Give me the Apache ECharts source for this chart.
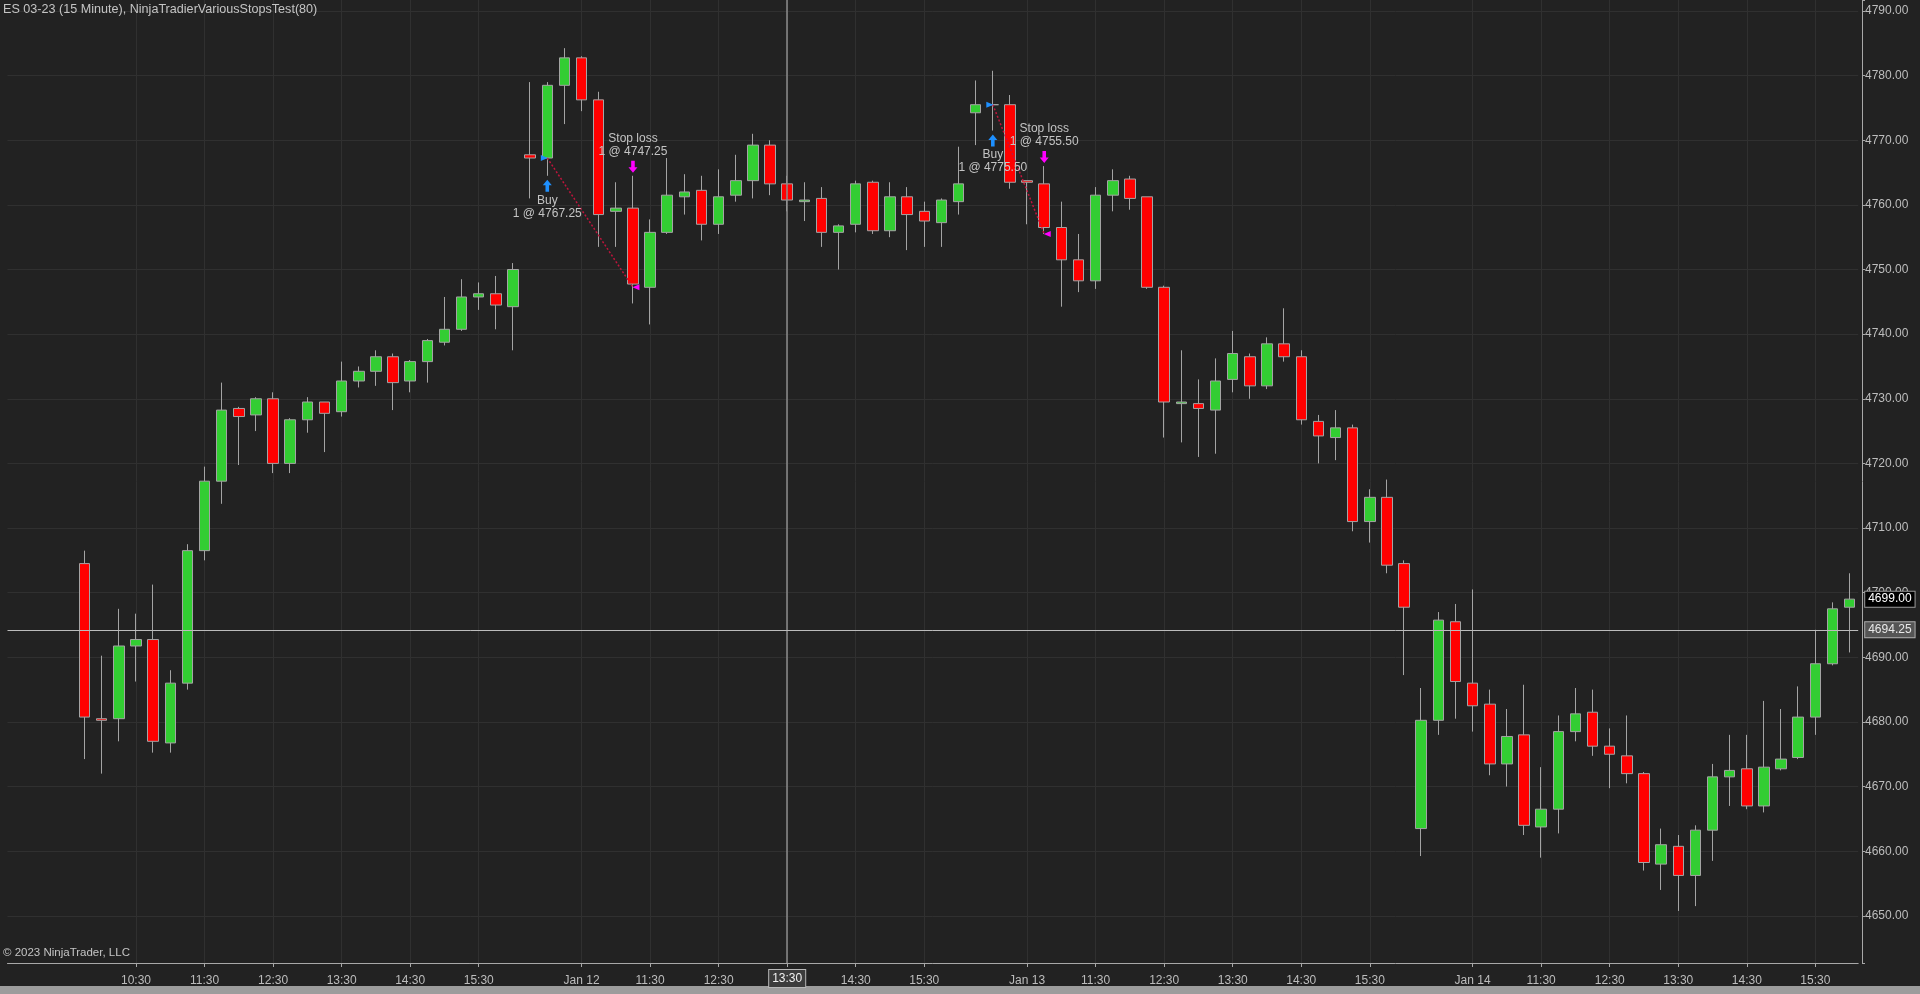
<!DOCTYPE html>
<html><head><meta charset="utf-8">
<script src="https://cdn.jsdelivr.net/npm/echarts@6/dist/echarts.min.js"></script>
<style>html,body{margin:0;padding:0;background:#222222;overflow:hidden}#c{width:1920px;height:994px}</style>
</head><body><div id="c"></div>
<script>
// ---- categories ----
const dayLabels = ['Jan 11', 'Jan 12', 'Jan 13', 'Jan 14'];
const barTimes = ['09:45','10:00','10:15','10:30','10:45','11:00','11:15','11:30','11:45','12:00','12:15','12:30','12:45',
                  '13:00','13:15','13:30','13:45','14:00','14:15','14:30','14:45','15:00','15:15','15:30','15:45','16:00'];
const padBars = 4;

// ---- OHLC values (15 minute bars) ----
const openP = [
 4704.5,4680.5,4680.5,4691.75,4692.75,4676.75,4686,4706.5,4717.25,4728.5,4727.5,4730,4720,4726.75,4729.5,4728,4732.75,4734.25,4736.5,4732.75,4735.75,4738.75,4740.75,4745.75,4746.25,4744.25,
 4767.75,4767.25,4778.5,4782.75,4776.25,4759,4759.5,4747.25,4755.75,4761.25,4762.25,4757,4761.5,4763.75,4769.25,4763.25,4760.5,4761,4755.75,4757,4763.5,4756,4761.25,4759,4757.25,4760.5,
 4774.25,4775.5,4775.5,4763.75,4763.25,4756.5,4751.5,4748.25,4761.5,4764,4761.25,4747.25,4729.25,4729.25,4728.25,4733,4736.5,4732,4738.5,4736.5,4726.5,4724,4725.5,4711,4714.75,4704.5,
 4663.5,4680.25,4695.5,4686,4682.75,4673.5,4678,4663.75,4666.5,4678.5,4681.5,4676.25,4674.75,4672,4658,4660.75,4656.25,4663.25,4671.5,4672.75,4667,4672.75,4674.5,4680.75,4689,4697.75];
const closeP = [
 4680.75,4680.25,4691.75,4692.75,4677,4686,4706.5,4717.25,4728.25,4727.25,4730,4720,4726.75,4729.5,4727.75,4732.75,4734.25,4736.5,4732.5,4735.75,4739,4740.75,4745.75,4746.25,4744.5,4750,
 4767.25,4778.5,4782.75,4776.25,4758.5,4759.5,4747.75,4755.75,4761.5,4762,4757,4761.25,4763.75,4769.25,4763.25,4760.75,4760.75,4755.75,4756.75,4763.25,4756,4761.25,4758.5,4757.5,4760.75,4763.25,
 4775.5,4775.5,4763.5,4763.5,4756.5,4751.5,4748.25,4761.5,4763.75,4761,4747.25,4729.5,4729.5,4728.5,4732.75,4737,4732,4738.5,4736.5,4726.75,4724.25,4725.5,4711,4714.75,4704.25,4697.75,
 4680.25,4695.75,4686.25,4682.5,4673.5,4677.75,4664,4666.5,4678.5,4681.25,4676.25,4675,4672,4658.25,4661,4656.25,4663.25,4671.5,4672.5,4667,4673,4674.25,4680.75,4689,4697.5,4699];
const lowP = [
 4674.25,4672,4677,4686.25,4675.25,4675.25,4685,4705,4713.75,4719.75,4725,4718.5,4718.5,4724.75,4721.75,4727.25,4731.75,4732,4728.25,4731,4732.5,4738.25,4740.5,4743.75,4740.75,4737.5,
 4761,4764.5,4772.5,4774.5,4753.5,4753.5,4744.75,4741.5,4755.5,4758.5,4754.5,4755.5,4760.5,4761,4761.5,4759,4757.5,4753.5,4750,4755.75,4755.5,4755,4753,4753.5,4753.5,4758.5,
 4769.25,4771.5,4762.5,4757,4755.5,4744.25,4746.5,4747,4759,4759.25,4747,4724,4723.25,4721,4721.5,4731,4730,4731.5,4735.75,4726,4720,4720.5,4709.5,4707.75,4703,4687.25,
 4659.25,4678,4680.5,4678.5,4671.75,4670,4662.5,4659,4662.75,4677,4674.75,4669.75,4670.5,4657,4654,4650.75,4651.5,4658.5,4667,4666.5,4666,4672.5,4674.25,4678,4688.75,4690.75];
const highP = [
 4706.5,4690.25,4697.5,4696.75,4701.25,4688,4707.5,4719.5,4732.5,4728.75,4730.25,4731,4727,4730.25,4729.5,4735.75,4735,4737.5,4737,4736,4739.25,4745.75,4748.5,4748,4749,4751,
 4779,4779,4784.25,4783,4777.5,4763.5,4764.5,4757.75,4767.25,4764.75,4764.5,4765.5,4767.75,4771,4770,4764.5,4763.5,4762.75,4757,4763.75,4763.75,4763.5,4762.75,4760.5,4761,4769,
 4779.25,4780.75,4777,4763.75,4766,4760.5,4755.5,4762.75,4765.5,4764.5,4761.25,4747.5,4737.5,4733,4736.25,4740.5,4737,4739.5,4744,4737.5,4727.5,4728.25,4726,4716,4717.5,4705,
 4685.25,4697,4698.25,4700.5,4685,4682,4685.75,4673,4681,4685.25,4685,4679,4681,4672.25,4663.5,4662.5,4664,4673.5,4678,4678,4683.25,4682,4685.5,4694.25,4698.5,4703];

// ---- trades ----
const entryBar = [27, 53];
const entryPrice = [4767.25, 4775.50];
const exitBar = [32, 56];
const exitPrice = [4747.25, 4755.50];

// ---- cursor / last price ----
const crossBar = 41;
const crossPrice = 4694.25;
const lastPrice = 4699.00;

// ---- build ----
const cats = [];
for (let i = 0; i < padBars; i++) cats.push('pad' + i);
dayLabels.forEach(d => barTimes.forEach(t => cats.push(d + ' ' + t)));
const barCat = i => cats[i + padBars];

const candles = [];
for (let i = 0; i < padBars; i++) candles.push('-');
for (let i = 0; i < openP.length; i++) candles.push([openP[i], closeP[i], lowP[i], highP[i]]);

function isTick(v) {
  if (v.indexOf('pad') === 0) return false;
  const t = v.slice(-5);
  const h = parseInt(t.slice(0, 2), 10);
  return t.slice(3) === '30' && h >= 10 && h <= 15;
}
function tickText(v) {
  const d = v.slice(0, v.length - 6), t = v.slice(-5);
  if (t === '10:30' && d !== dayLabels[0]) return d;
  return t;
}
const tickInterval = (idx, v) => isTick(v);

const FONT = '"Liberation Sans", Arial, sans-serif';
const TXT = '#c4c4c4';
const upArrow = 'path://M5,0 L10,6 L7,6 L7,13 L3,13 L3,6 L0,6 Z';
const downArrow = 'path://M3,0 L7,0 L7,7 L10,7 L5,13 L0,7 L3,7 Z';

const markPoints = [];
const tradeLines = [];
for (let k = 0; k < entryBar.length; k++) {
  const eb = entryBar[k], xb = exitBar[k];
  markPoints.push({
    coord: [barCat(eb), lowP[eb]], symbol: upArrow, symbolSize: [9, 12], symbolOffset: [0, 10],
    itemStyle: { color: '#1e90ff' },
    label: { show: true, position: 'bottom', distance: 2, formatter: 'Buy\n1 @ ' + entryPrice[k].toFixed(2),
             color: TXT, fontSize: 12, lineHeight: 13, fontFamily: FONT, align: 'center' }
  });
  markPoints.push({
    coord: [barCat(xb), highP[xb]], symbol: downArrow, symbolSize: [9, 12], symbolOffset: [0, -9],
    itemStyle: { color: '#ff00ff' },
    label: { show: true, position: 'top', distance: 3, formatter: 'Stop loss\n1 @ ' + exitPrice[k].toFixed(2),
             color: TXT, fontSize: 12, lineHeight: 13, fontFamily: FONT, align: 'center' }
  });
  markPoints.push({
    coord: [barCat(eb), entryPrice[k]], symbol: 'triangle', symbolSize: [6, 7], symbolRotate: -90, symbolOffset: [-3, 0],
    itemStyle: { color: '#1e90ff' }, label: { show: false }
  });
  markPoints.push({
    coord: [barCat(xb), exitPrice[k]], symbol: 'triangle', symbolSize: [6, 7], symbolRotate: 90, symbolOffset: [3, 0],
    itemStyle: { color: '#ff00ff' }, label: { show: false }
  });
  tradeLines.push([
    { coord: [barCat(eb), entryPrice[k]], lineStyle: { color: '#c0143c', width: 1.5, type: [2, 2] }, label: { show: false } },
    { coord: [barCat(xb), exitPrice[k]] }
  ]);
}

const chart = echarts.init(document.getElementById('c'), null, { renderer: 'canvas' });
chart.setOption({
  backgroundColor: '#222222',
  animation: false,
  title: [
    { text: 'ES 03-23 (15 Minute), NinjaTradierVariousStopsTest(80)', left: 3, top: 3, padding: 0,
      textStyle: { color: TXT, fontSize: 12.6, fontWeight: 'normal', fontFamily: FONT } },
    { text: '© 2023 NinjaTrader, LLC', left: 3, top: 947, padding: 0,
      textStyle: { color: TXT, fontSize: 11.5, fontWeight: 'normal', fontFamily: FONT } }
  ],
  grid: { left: 7.5, right: 61.8, top: 0, bottom: 31, containLabel: false },
  xAxis: {
    type: 'category', data: cats, boundaryGap: true,
    axisLine: { show: true, lineStyle: { color: '#a8a8a8', width: 1 } },
    axisTick: { show: true, alignWithLabel: true, interval: tickInterval, length: 4, lineStyle: { color: '#a8a8a8' } },
    axisLabel: { show: true, interval: tickInterval, formatter: v => tickText(v), color: '#bdbdbd', fontSize: 12, margin: 12, fontFamily: FONT },
    splitLine: { show: true, alignWithLabel: true, interval: tickInterval, lineStyle: { color: '#303030', width: 1 } }
  },
  yAxis: {
    type: 'value', position: 'right', min: 4642.7, max: 4791.7, splitNumber: 15, offset: 3.8,
    axisLine: { show: true, lineStyle: { color: '#a8a8a8', width: 1 } },
    axisTick: { show: true, length: 3, lineStyle: { color: '#a8a8a8' } },
    axisLabel: { show: true, formatter: v => (Math.abs(v % 10) < 1e-6 ? v.toFixed(2) : ''), color: '#bdbdbd', fontSize: 12, margin: 3, fontFamily: FONT },
    splitLine: { show: true, showMinLine: false, showMaxLine: false, lineStyle: { color: '#303030', width: 1 } }
  },
  series: [{
    type: 'candlestick', data: candles, barWidth: 11, clip: false,
    itemStyle: { color: '#32cd32', color0: '#ff0000', borderColor: '#a4a4a4', borderColor0: '#a4a4a4', borderColorDoji: '#a4a4a4', borderWidth: 1 },
    emphasis: { disabled: true },
    markLine: {
      silent: true, symbol: ['none', 'none'], animation: false,
      data: [
        { xAxis: barCat(crossBar), lineStyle: { color: '#8c8c8c', width: 1.5, type: 'solid' },
          label: { show: true, position: 'start', distance: 7, formatter: () => barTimes[crossBar % 26],
                   color: '#f0f0f0', fontSize: 12, fontFamily: FONT, backgroundColor: '#3c3c3c', borderColor: '#b8b8b8', borderWidth: 1, padding: [3, 3, 2, 3] } },
        { yAxis: crossPrice, lineStyle: { color: '#bcbcbc', width: 1, type: 'solid' },
          label: { show: true, position: 'end', distance: 7, formatter: () => crossPrice.toFixed(2),
                   color: '#e8e8e8', fontSize: 12, fontFamily: FONT, backgroundColor: '#555555', borderColor: '#b0b0b0', borderWidth: 1, padding: [2, 3, 1, 3] } },
        { yAxis: lastPrice, lineStyle: { color: 'rgba(0,0,0,0)', width: 0 },
          label: { show: true, position: 'end', distance: 7, formatter: () => lastPrice.toFixed(2),
                   color: '#ffffff', fontSize: 12, fontFamily: FONT, backgroundColor: '#000000', borderColor: '#9a9a9a', borderWidth: 1, padding: [2, 3, 1, 3] } }
      ].concat(tradeLines)
    },
    markPoint: { silent: true, animation: false, data: markPoints }
  }],
  graphic: [
    { type: 'rect', left: 0, bottom: 0, shape: { width: 1920, height: 8 }, style: { fill: '#9c9c9c' }, silent: true }
  ]
});
</script></body></html>
